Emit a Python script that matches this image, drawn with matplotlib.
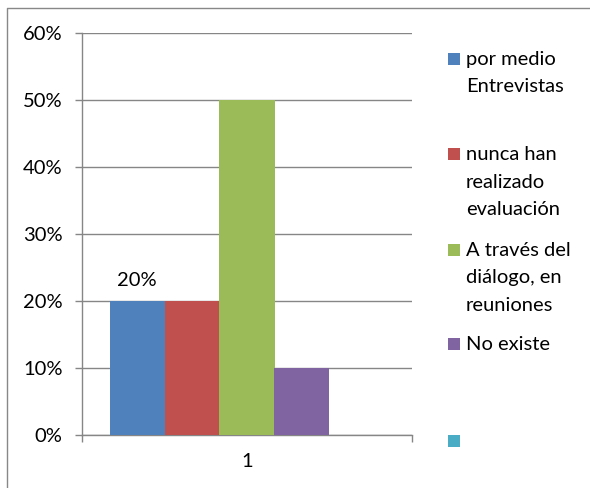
import matplotlib.pyplot as plt
from matplotlib.patches import Rectangle
from matplotlib.lines import Line2D

# series data (one category "1")
series_names = ["por medio\nEntrevistas",
                "nunca han\nrealizado\nevaluación",
                "A través del\ndiálogo, en\nreuniones",
                "No existe",
                ""]
series_values = [0.20, 0.20, 0.50, 0.10, 0.0]
series_colors = ["#4F81BD", "#C0504D", "#9BBB59", "#8064A2", "#4BACC6"]
category_labels = ["1"]
y_ticks = [0, 0.1, 0.2, 0.3, 0.4, 0.5, 0.6]

plt.rcParams['font.family'] = ['Lato', 'DejaVu Sans']
fs = 14.5
W, H = 590, 488

fig = plt.figure(figsize=(W / 100, H / 100), dpi=100)
ax = fig.add_axes([82 / W, 1 - 435 / H, 330 / W, 402 / H])

n = len(series_values)
bw = 1.0 / (n + 1)
for i, (v, c) in enumerate(zip(series_values, series_colors)):
    x = -0.5 + bw / 2 + (i + 0.5) * bw
    ax.bar(x, v, width=bw, color=c, linewidth=0, zorder=3)
    if i == 0:
        ax.annotate("%d%%" % round(v * 100), (x, v), xytext=(0, 9),
                    textcoords="offset points", ha="center", va="bottom",
                    fontsize=fs, color="black")

grid_c = "#868686"
ax.set_xlim(-0.5, 0.5)
ax.set_ylim(0, 0.6)
ax.set_yticks(y_ticks)
ax.set_yticklabels(["%d%%" % round(t * 100) for t in y_ticks], fontsize=fs)
ax.set_xticks([0])
ax.set_xticklabels(category_labels, fontsize=fs)
ax.set_xticks([-0.5, 0.5], minor=True)
ax.tick_params(axis="x", which="major", length=0, pad=13)
ax.tick_params(axis="x", which="minor", length=5, color=grid_c, width=1)
ax.tick_params(axis="y", length=5, color=grid_c, width=1, pad=9)
ax.yaxis.grid(True, color=grid_c, linewidth=1, zorder=0)
for s in ["top", "right"]:
    ax.spines[s].set_visible(False)
for s in ["left", "bottom"]:
    ax.spines[s].set_color(grid_c)
    ax.spines[s].set_linewidth(1)
ax.set_axisbelow(True)

# legend drawn by hand: Excel spaces entries evenly
mark_top = [53, 148, 244, 338, 435]
for name, c, yt in zip(series_names, series_colors, mark_top):
    fig.patches.append(Rectangle((448 / W, 1 - (yt + 12) / H), 12 / W, 12 / H,
                                 transform=fig.transFigure, color=c, linewidth=0))
    if name:
        fig.text(466 / W, 1 - (yt - 2) / H, name, fontsize=fs, va="top",
                 ha="left", linespacing=1.75)

# outer chart border (left and top edges visible)
fig.lines.append(Line2D([7 / W, 7 / W, 1], [0, 1 - 8 / H, 1 - 8 / H],
                        transform=fig.transFigure, color="#888888", linewidth=1))

fig.savefig("out.png", dpi=100)
